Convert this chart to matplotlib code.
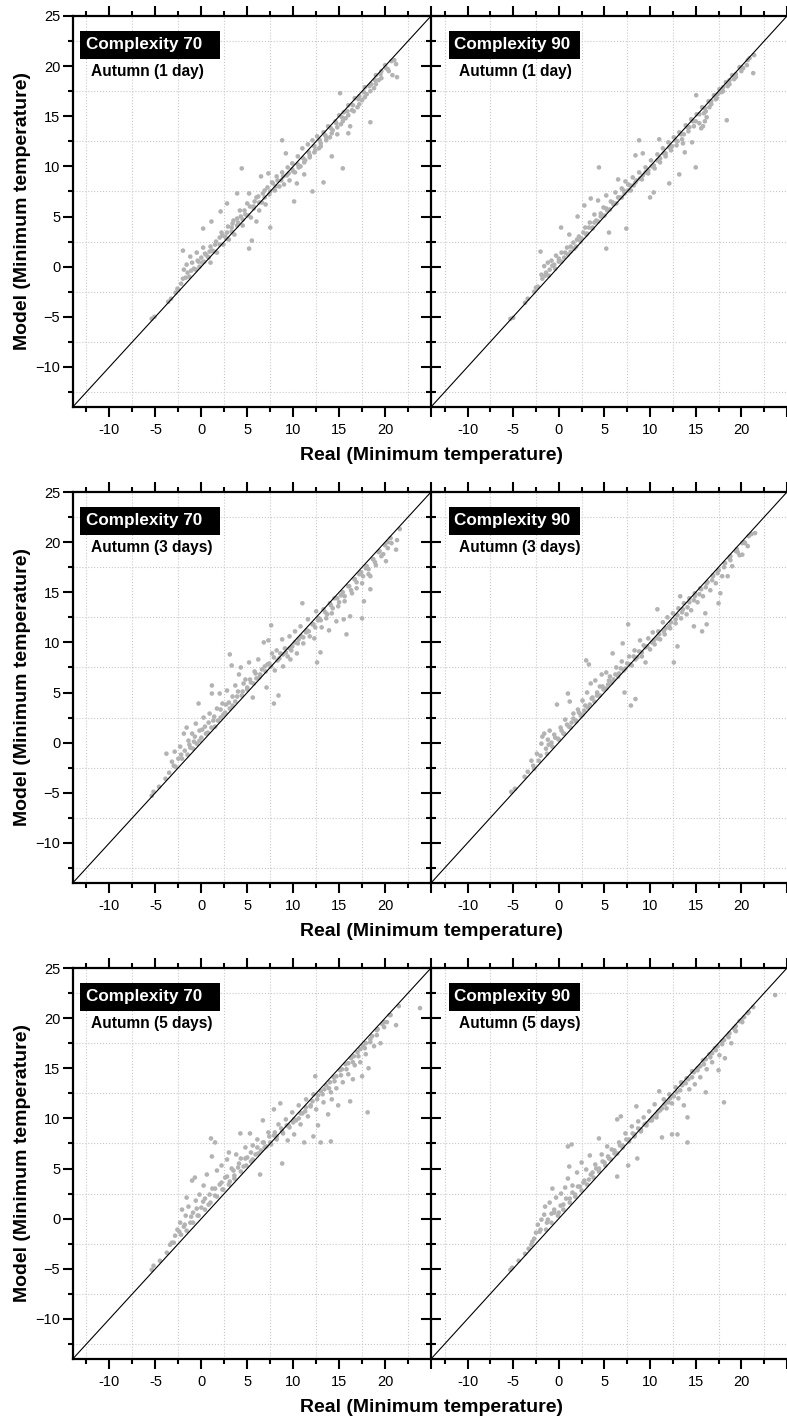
import matplotlib
matplotlib.use("Agg")
import matplotlib.pyplot as plt
from matplotlib.patches import Rectangle
import numpy as np

plt.rcParams['font.family'] = ['Liberation Sans', 'DejaVu Sans']

# (real, model) pairs, one list per panel
pts_c70_1d = [
    (-5.4, -5.2), (-5.1, -5.0), (-3.6, -3.5), (-3.3, -3.2), (-2.8, -2.6), (-2.5, -2.3), (-2.2, -1.7),
    (-2.0, -1.2), (-1.9, -0.3), (-2.0, 1.6), (-1.6, 0.2), (-1.5, -0.6), (-1.2, 1.0), (-1.0, 0.4),
    (-0.8, -0.2), (-0.5, 1.4), (-0.4, 0.6), (-0.2, 0.0), (0.0, 0.9), (0.2, 1.9), (0.3, 0.5), (0.5, 1.2),
    (0.8, 0.9), (1.0, 2.0), (1.0, 0.4), (1.2, 1.6), (0.2, 3.8), (1.1, 4.5), (1.5, 2.2), (1.7, 1.4),
    (2.0, 2.9), (2.1, 5.5), (2.2, 3.4), (2.4, 2.2), (2.6, 3.0), (2.8, 6.3), (2.9, 4.0), (3.0, 2.7),
    (3.3, 3.9), (3.5, 4.6), (3.6, 3.2), (3.9, 7.3), (4.0, 4.4), (4.2, 5.6), (4.4, 9.8), (4.5, 4.1),
    (4.8, 5.2), (5.0, 6.3), (5.2, 7.3), (5.2, 1.8), (5.4, 4.9), (5.5, 2.6), (5.7, 6.0), (6.0, 4.5),
    (6.0, 6.9), (6.3, 5.6), (6.5, 9.0), (6.6, 6.4), (6.9, 7.6), (7.0, 6.2), (7.3, 9.3), (7.4, 7.2),
    (7.5, 3.9), (7.7, 8.4), (8.0, 7.6), (8.2, 9.0), (8.5, 8.0), (8.8, 12.6), (8.8, 9.4), (9.0, 8.2),
    (9.2, 11.3), (9.4, 9.9), (9.6, 8.6), (9.9, 10.3), (10.1, 6.5), (10.2, 9.4), (10.4, 8.3), (10.5, 11.0),
    (10.8, 10.0), (11.0, 11.8), (11.2, 9.2), (11.3, 10.6), (11.6, 12.2), (11.8, 10.9), (12.1, 7.5),
    (12.1, 12.6), (12.3, 11.4), (12.6, 13.0), (12.8, 11.8), (13.0, 12.3), (13.3, 8.4), (13.3, 13.4),
    (13.6, 12.6), (13.8, 14.0), (14.0, 12.9), (14.2, 11.0), (14.3, 13.6), (14.6, 14.5), (14.8, 13.2),
    (15.0, 15.1), (15.1, 17.3), (15.2, 14.2), (15.4, 9.8), (15.5, 15.4), (15.7, 14.8), (16.0, 13.3),
    (16.0, 16.1), (16.2, 14.0), (16.4, 15.6), (16.7, 16.8), (17.0, 15.9), (17.2, 17.0), (17.5, 16.6),
    (17.8, 17.9), (18.0, 17.2), (18.4, 14.4), (18.5, 18.2), (18.8, 17.8), (19.0, 19.1), (19.3, 18.6),
    (19.6, 19.5), (20.0, 20.1), (20.3, 19.7), (20.8, 19.1), (21.0, 20.6), (21.2, 20.2), (21.3, 18.9),
    (-1.3, -1.0), (-0.6, -0.3), (0.1, 0.4), (0.7, 1.0), (1.4, 1.5), (2.0, 2.2), (2.7, 2.8), (3.3, 3.5),
    (3.9, 4.1), (4.5, 4.7), (5.1, 5.1), (5.7, 5.8), (6.3, 6.4), (6.9, 6.9), (7.5, 7.5), (8.1, 8.0),
    (8.7, 8.6), (9.3, 9.1), (9.9, 9.7), (10.5, 10.2), (11.1, 10.8), (11.7, 11.4), (12.3, 12.0),
    (12.9, 12.6), (13.5, 13.1), (14.1, 13.8), (14.7, 14.3), (15.3, 14.9), (15.9, 15.5), (16.5, 16.1),
    (17.1, 16.7), (17.7, 17.4), (18.3, 18.0), (18.9, 18.6), (19.5, 19.2), (20.1, 19.8), (20.7, 20.5),
    (-2.6, -2.2), (-1.7, -1.1), (-1.1, -0.4), (-0.3, 0.5), (0.4, 1.3), (0.9, 1.5), (1.6, 2.5), (2.3, 3.1),
    (2.8, 3.4), (3.4, 4.3), (3.9, 4.8), (4.3, 5.0), (4.7, 5.6), (5.3, 6.0), (5.8, 6.5), (6.2, 7.0),
    (6.7, 7.3), (7.2, 7.9), (7.8, 8.3), (8.3, 8.6), (8.9, 9.0), (9.5, 9.3), (10.0, 9.5), (10.6, 9.9),
    (11.2, 10.4), (11.8, 11.1), (12.4, 11.6), (13.0, 12.0), (13.6, 12.9), (14.2, 13.3), (14.8, 13.9),
    (15.4, 14.5), (16.0, 15.1), (16.6, 15.5), (17.2, 16.2), (17.8, 16.9), (18.4, 17.5), (19.0, 18.2),
    (19.6, 18.8), (20.4, 19.5),
]

pts_c90_1d = [
    (-5.3, -5.2), (-5.0, -5.1), (-3.7, -3.6), (-3.4, -3.2), (-2.7, -2.5), (-2.3, -2.0), (-2.0, 1.5),
    (-1.9, -0.8), (-1.8, -1.2), (-1.6, 0.05), (-1.4, -0.6), (-1.2, 0.4), (-1.0, -0.3), (-0.8, 0.6),
    (-0.5, 0.2), (-0.3, 1.1), (0.0, 0.5), (0.25, 3.9), (0.3, 1.4), (0.6, 0.9), (0.9, 1.9), (1.15, 3.2),
    (1.3, 1.5), (1.6, 2.4), (1.9, 2.0), (2.06, 5.0), (2.2, 3.0), (2.5, 2.8), (2.8, 6.1), (2.9, 3.9),
    (3.1, 3.3), (3.4, 4.4), (3.5, 6.8), (3.7, 3.9), (3.9, 5.2), (4.1, 4.6), (4.3, 6.6), (4.4, 9.9),
    (4.6, 5.0), (4.9, 5.9), (5.2, 7.1), (5.2, 1.8), (5.3, 5.6), (5.5, 3.4), (5.7, 6.5), (6.0, 6.2),
    (6.2, 7.4), (6.5, 8.7), (6.6, 6.9), (6.9, 7.8), (7.2, 7.3), (7.3, 8.5), (7.4, 3.8), (7.6, 8.2),
    (7.9, 7.6), (8.1, 8.9), (8.4, 11.1), (8.4, 8.4), (8.8, 12.6), (8.8, 9.4), (9.1, 8.7), (9.2, 11.3),
    (9.5, 9.9), (9.8, 9.3), (10.0, 6.9), (10.1, 10.6), (10.4, 7.4), (10.5, 9.8), (10.8, 11.2),
    (11.0, 12.7), (11.1, 10.4), (11.4, 11.8), (11.7, 11.0), (12.0, 12.4), (12.1, 8.3), (12.3, 11.6),
    (12.6, 12.9), (12.9, 12.1), (13.2, 9.2), (13.2, 13.4), (13.5, 12.7), (13.6, 12.3), (13.8, 11.4),
    (13.9, 14.1), (14.2, 13.5), (14.5, 14.7), (14.6, 12.4), (14.8, 14.0), (15.0, 9.9), (15.05, 17.1),
    (15.1, 15.2), (15.4, 14.3), (15.6, 13.8), (15.8, 14.0), (16.0, 14.5), (16.2, 14.9), (16.1, 15.5),
    (15.7, 15.9), (16.4, 16.5), (16.7, 16.2), (17.0, 17.1), (17.3, 16.8), (17.6, 17.7), (18.0, 17.5),
    (18.3, 18.4), (18.4, 14.6), (18.7, 18.2), (19.0, 19.1), (19.4, 18.9), (19.8, 19.9), (20.2, 19.8),
    (20.6, 20.1), (20.9, 20.8), (21.3, 19.3), (21.4, 21.1),
    (-1.1, -0.9), (-0.4, -0.2), (0.3, 0.5), (1.0, 1.2), (1.7, 1.8), (2.4, 2.5), (3.0, 3.2), (3.7, 3.8),
    (4.3, 4.5), (5.0, 5.1), (5.6, 5.7), (6.3, 6.3), (6.9, 6.9), (7.6, 7.6), (8.2, 8.1), (8.9, 8.8),
    (9.5, 9.4), (10.2, 10.0), (10.8, 10.6), (11.5, 11.3), (12.1, 11.9), (12.8, 12.6), (13.4, 13.2),
    (14.1, 13.9), (14.7, 14.5), (15.4, 15.2), (16.0, 15.8), (16.7, 16.5), (17.4, 17.2), (18.0, 17.9),
    (18.7, 18.6), (19.4, 19.2), (20.0, 19.9), (20.7, 20.6),
    (-2.5, -2.1), (-1.5, -0.9), (-0.7, 0.1), (0.0, 0.8), (0.7, 1.4), (1.3, 2.0), (2.0, 2.7), (2.7, 3.4),
    (3.3, 3.9), (3.9, 4.4), (4.6, 5.3), (5.2, 5.8), (5.9, 6.4), (6.5, 6.9), (7.1, 7.6), (7.8, 8.1),
    (8.5, 8.6), (9.2, 9.1), (9.8, 9.6), (10.4, 10.1), (11.1, 10.8), (11.7, 11.3), (12.4, 12.0),
    (13.0, 12.5), (13.7, 13.2), (14.3, 13.9), (15.0, 14.5), (15.9, 15.3), (16.5, 15.9), (17.2, 16.7),
    (17.8, 17.4), (18.5, 18.0), (19.2, 18.7), (20.0, 19.5),
]

pts_c70_3d = [
    (-5.4, -5.3), (-5.2, -4.9), (-4.6, -4.4), (-3.9, -3.6), (-3.8, -1.1), (-3.5, -3.0), (-3.2, -1.9),
    (-2.9, -0.9), (-2.8, -2.4), (-2.5, -1.6), (-2.3, -0.4), (-2.1, -1.6), (-1.9, 0.9), (-1.8, -0.8),
    (-1.6, 1.5), (-1.4, 0.2), (-1.2, -0.5), (-1.0, 0.9), (-0.8, 0.1), (-0.6, 1.9), (-0.5, -0.1),
    (-0.3, 3.9), (-0.2, 1.2), (0.0, 0.5), (0.25, 2.5), (0.4, 1.6), (0.7, 1.0), (0.9, 2.9), (1.15, 5.7),
    (1.15, 4.9), (1.3, 2.2), (1.5, 1.6), (1.7, 3.4), (2.0, 4.9), (2.1, 2.5), (2.3, 3.9), (2.6, 3.0),
    (2.8, 5.2), (3.0, 4.0), (3.1, 8.8), (3.3, 7.7), (3.4, 3.7), (3.7, 5.7), (3.9, 4.6), (4.1, 6.8),
    (4.3, 7.5), (4.5, 5.1), (4.8, 6.3), (5.0, 5.5), (5.2, 8.0), (5.4, 6.0), (5.6, 4.5), (5.8, 7.1),
    (6.0, 6.4), (6.2, 8.3), (6.4, 6.8), (6.8, 10.0), (6.9, 7.6), (7.1, 5.5), (7.3, 10.2), (7.4, 7.9),
    (7.6, 11.7), (7.7, 8.9), (7.9, 3.9), (8.0, 7.2), (8.2, 9.2), (8.4, 4.7), (8.5, 8.4), (8.8, 10.3),
    (8.9, 7.6), (9.1, 9.4), (9.4, 8.6), (9.6, 10.6), (9.7, 8.3), (9.9, 9.6), (10.2, 11.1), (10.4, 8.9),
    (10.6, 10.3), (10.8, 11.6), (11.0, 13.9), (11.1, 9.9), (11.4, 11.0), (11.6, 12.3), (11.8, 10.6),
    (12.1, 11.8), (12.3, 10.4), (12.5, 13.1), (12.6, 8.0), (12.7, 12.2), (12.97, 9.0), (13.1, 11.5),
    (13.3, 13.3), (13.6, 12.4), (13.9, 11.2), (14.0, 13.9), (14.2, 12.9), (14.5, 14.4), (14.7, 12.1),
    (14.9, 13.6), (15.2, 14.7), (15.5, 12.3), (15.6, 14.1), (15.8, 10.8), (16.0, 15.6), (16.2, 12.6),
    (16.4, 14.9), (16.7, 16.3), (16.9, 15.4), (17.2, 16.8), (17.5, 12.4), (17.5, 15.9), (17.7, 14.1),
    (17.9, 17.4), (18.2, 16.8), (18.4, 15.3), (18.4, 16.6), (18.7, 18.3), (19.0, 17.7), (19.4, 19.1),
    (19.8, 18.8), (20.1, 18.1), (20.3, 20.0), (20.7, 19.9), (21.2, 19.25), (21.3, 20.2), (21.6, 21.3),
    (-1.5, -1.2), (-0.9, -0.6), (-0.2, 0.2), (0.5, 0.9), (1.1, 1.5), (1.8, 2.2), (2.4, 2.8), (3.1, 3.4),
    (3.7, 4.1), (4.4, 4.7), (5.0, 5.3), (5.7, 5.9), (6.3, 6.5), (7.0, 7.1), (7.6, 7.6), (8.3, 8.2),
    (8.9, 8.8), (9.6, 9.4), (10.2, 10.0), (10.9, 10.6), (11.5, 11.2), (12.2, 11.8), (12.8, 12.4),
    (13.5, 13.0), (14.1, 13.7), (14.8, 14.4), (15.4, 15.0), (16.1, 15.6), (16.7, 16.3), (17.4, 17.0),
    (18.0, 17.6), (18.7, 18.3), (19.3, 19.0), (20.0, 19.7), (20.6, 20.4),
    (-3.0, -2.3), (-2.2, -1.2), (-1.3, -0.2), (-0.7, 0.6), (0.1, 1.3), (0.8, 2.0), (1.4, 2.6), (2.1, 3.3),
    (2.7, 3.8), (3.4, 4.6), (4.0, 5.1), (4.6, 5.9), (5.3, 6.3), (5.9, 6.9), (6.6, 7.3), (7.2, 7.8),
    (7.9, 8.5), (8.6, 8.9), (9.2, 9.0), (9.8, 9.2), (10.5, 9.9), (11.1, 10.5), (11.7, 11.1), (12.4, 11.5),
    (13.0, 12.2), (13.7, 12.8), (14.3, 13.4), (15.0, 14.0), (15.6, 14.6), (16.3, 15.2), (16.9, 16.0),
    (17.6, 16.6), (18.2, 17.3), (18.9, 18.0), (19.6, 18.6), (20.3, 19.4),
]

pts_c90_3d = [
    (-5.2, -4.9), (-4.8, -4.6), (-3.75, -3.4), (-3.4, -2.9), (-3.0, -1.8), (-2.7, -2.6), (-2.4, -1.1),
    (-2.2, -1.8), (-1.9, -0.1), (-1.8, 0.6), (-1.6, 0.9), (-1.4, -0.6), (-1.2, 0.3), (-1.0, 1.2),
    (-0.8, 0.0), (-0.5, 0.8), (-0.2, 3.8), (-0.1, 0.4), (0.2, 1.5), (0.5, 0.9), (0.7, 2.3), (1.0, 4.9),
    (1.1, 1.6), (1.2, 4.1), (1.4, 2.0), (1.6, 2.9), (1.9, 2.1), (2.1, 3.3), (2.4, 2.7), (2.6, 4.2),
    (2.8, 3.2), (3.0, 8.2), (3.1, 5.0), (3.3, 7.8), (3.4, 3.8), (3.5, 5.9), (3.7, 4.5), (4.0, 6.2),
    (4.2, 4.7), (4.5, 5.6), (4.7, 6.8), (4.9, 5.3), (5.2, 7.0), (5.4, 5.8), (5.6, 6.6), (5.9, 8.9),
    (6.0, 6.3), (6.3, 7.5), (6.6, 6.9), (6.9, 8.1), (7.0, 9.9), (7.2, 5.0), (7.3, 7.4), (7.6, 11.8),
    (7.7, 8.6), (7.9, 3.7), (8.0, 7.7), (8.3, 9.2), (8.4, 4.35), (8.6, 8.5), (8.9, 10.2), (9.1, 8.6),
    (9.3, 9.7), (9.5, 8.0), (9.8, 10.4), (10.0, 9.3), (10.3, 11.0), (10.5, 9.8), (10.8, 13.3),
    (10.9, 11.1), (11.1, 10.3), (11.4, 12.0), (11.6, 10.8), (11.9, 12.5), (12.2, 11.4), (12.5, 12.9),
    (12.6, 8.0), (12.8, 11.9), (13.0, 9.6), (13.1, 13.4), (13.3, 14.6), (13.4, 12.4), (13.7, 13.9),
    (14.0, 12.8), (14.3, 14.4), (14.5, 13.2), (14.8, 11.6), (14.9, 14.9), (15.2, 14.0), (15.5, 15.4),
    (15.7, 11.1), (15.8, 14.6), (16.05, 12.9), (16.2, 11.8), (16.3, 16.0), (16.6, 15.2), (16.9, 16.7),
    (17.2, 15.9), (17.5, 13.9), (17.5, 17.2), (17.7, 14.9), (17.9, 16.6), (18.2, 17.9), (18.5, 16.6),
    (18.7, 18.4), (19.0, 17.6), (19.4, 19.1), (19.8, 18.7), (20.1, 18.75), (20.3, 20.0), (20.7, 19.6),
    (21.1, 20.8), (21.5, 20.9),
    (-1.3, -1.1), (-0.7, -0.4), (0.0, 0.3), (0.6, 0.9), (1.3, 1.5), (1.9, 2.2), (2.6, 2.8), (3.2, 3.5),
    (3.9, 4.1), (4.5, 4.7), (5.2, 5.4), (5.8, 6.0), (6.5, 6.6), (7.1, 7.2), (7.8, 7.8), (8.4, 8.3),
    (9.1, 9.0), (9.7, 9.6), (10.4, 10.2), (11.0, 10.8), (11.7, 11.4), (12.3, 12.0), (13.0, 12.7),
    (13.6, 13.3), (14.3, 14.0), (14.9, 14.6), (15.6, 15.3), (16.2, 15.9), (16.9, 16.6), (17.5, 17.2),
    (18.2, 17.9), (18.8, 18.6), (19.5, 19.3), (20.1, 19.9), (20.8, 20.6),
    (-2.8, -2.3), (-2.0, -1.3), (-1.1, -0.2), (-0.4, 0.5), (0.3, 1.2), (0.9, 1.8), (1.6, 2.4), (2.2, 3.0),
    (2.9, 3.7), (3.6, 4.4), (4.2, 5.0), (4.8, 5.6), (5.5, 6.2), (6.2, 6.8), (6.8, 7.4), (7.5, 7.9),
    (8.2, 8.6), (8.8, 9.1), (9.5, 9.5), (10.2, 10.0), (10.8, 10.4), (11.5, 11.1), (12.1, 11.6),
    (12.8, 12.3), (13.5, 13.0), (14.1, 13.5), (14.8, 14.2), (15.4, 14.8), (16.1, 15.5), (16.8, 16.2),
    (17.4, 16.9), (18.1, 17.5), (18.8, 18.2), (19.6, 19.0), (20.4, 19.9),
]

pts_c70_5d = [
    (-5.4, -5.1), (-5.2, -4.7), (-4.5, -4.2), (-3.75, -3.4), (-3.4, -2.6), (-3.0, -2.4), (-2.85, -1.7),
    (-2.6, -1.1), (-2.3, -0.4), (-2.2, -1.6), (-2.1, 0.9), (-1.9, -0.8), (-1.7, 0.3), (-1.6, 2.1),
    (-1.4, 1.2), (-1.2, -0.4), (-1.0, 3.8), (-0.9, 0.6), (-0.7, 4.1), (-0.6, 1.8), (-0.4, 0.3),
    (-0.2, 2.4), (0.0, 1.1), (0.25, 3.3), (0.4, 2.0), (0.6, 4.4), (0.8, 1.4), (1.05, 8.0), (1.15, 6.2),
    (1.2, 3.0), (1.5, 7.6), (1.5, 2.3), (1.7, 4.8), (2.0, 3.4), (2.2, 5.3), (2.4, 2.9), (2.6, 4.1),
    (2.8, 5.9), (3.0, 6.6), (3.1, 3.7), (3.3, 5.0), (3.6, 4.3), (3.8, 6.4), (4.0, 5.1), (4.25, 8.5),
    (4.3, 6.0), (4.6, 5.2), (4.8, 7.1), (5.0, 6.1), (5.3, 8.5), (5.4, 5.7), (5.6, 7.3), (5.9, 6.4),
    (6.1, 7.9), (6.4, 4.4), (6.5, 6.8), (6.7, 9.8), (6.8, 7.6), (7.1, 7.2), (7.3, 8.6), (7.6, 7.4),
    (7.9, 10.9), (7.9, 8.3), (8.2, 7.9), (8.4, 9.4), (8.6, 11.5), (8.8, 5.5), (8.9, 8.5), (9.2, 9.9),
    (9.4, 7.8), (9.6, 9.1), (9.9, 10.6), (10.1, 8.4), (10.3, 9.8), (10.6, 11.3), (10.8, 9.4),
    (11.0, 10.5), (11.2, 7.6), (11.4, 11.9), (11.6, 10.2), (11.9, 11.2), (12.2, 8.2), (12.2, 12.4),
    (12.4, 14.2), (12.5, 10.9), (12.7, 9.3), (13.0, 7.6), (13.0, 12.7), (13.3, 11.6), (13.6, 13.3),
    (13.8, 10.4), (14.1, 7.7), (14.1, 12.6), (14.2, 11.9), (14.4, 14.1), (14.7, 13.0), (14.9, 11.3),
    (15.1, 14.8), (15.4, 13.6), (15.7, 15.4), (16.0, 14.4), (16.2, 11.7), (16.3, 16.0), (16.5, 13.9),
    (16.7, 15.3), (17.0, 16.6), (17.3, 15.6), (17.5, 14.2), (17.6, 17.2), (17.9, 16.4), (18.1, 10.6),
    (18.2, 15.0), (18.4, 17.9), (18.8, 17.2), (19.1, 18.8), (19.5, 17.5), (19.7, 19.4), (20.2, 19.6),
    (20.6, 20.3), (21.2, 19.3), (21.5, 21.2), (23.8, 21.0),
    (-1.6, -1.2), (-0.9, -0.4), (-0.3, 0.3), (0.4, 0.9), (1.0, 1.6), (1.7, 2.2), (2.3, 2.9), (3.0, 3.4),
    (3.6, 4.0), (4.3, 4.7), (4.9, 5.3), (5.6, 5.9), (6.2, 6.5), (6.9, 7.1), (7.5, 7.6), (8.2, 8.2),
    (8.8, 8.7), (9.5, 9.3), (10.1, 9.9), (10.8, 10.5), (11.4, 11.1), (12.1, 11.7), (12.7, 12.3),
    (13.4, 12.9), (14.0, 13.6), (14.7, 14.2), (15.3, 14.9), (16.0, 15.5), (16.6, 16.2), (17.3, 16.9),
    (17.9, 17.5), (18.6, 18.2), (19.2, 18.9), (19.9, 19.6), (20.5, 20.3),
    (-3.2, -2.4), (-2.4, -1.3), (-1.8, -0.6), (-1.1, 0.2), (-0.5, 1.0), (0.2, 1.7), (0.9, 2.4), (1.5, 3.0),
    (2.2, 3.6), (2.8, 4.2), (3.5, 4.8), (4.1, 5.5), (4.8, 6.0), (5.4, 6.6), (6.1, 7.1), (6.7, 7.6),
    (7.4, 8.2), (8.0, 8.6), (8.7, 9.0), (9.3, 9.3), (10.0, 9.6), (10.6, 10.0), (11.3, 10.7), (11.9, 11.3),
    (12.6, 11.9), (13.2, 12.4), (13.9, 13.0), (14.5, 13.7), (15.2, 14.3), (15.8, 14.9), (16.5, 15.6),
    (17.1, 16.2), (17.8, 17.0), (18.4, 17.6), (19.1, 18.3), (19.9, 19.1),
]

pts_c90_5d = [
    (-5.3, -5.1), (-5.1, -4.9), (-4.4, -4.2), (-3.7, -3.5), (-3.3, -3.0), (-3.0, -2.6), (-2.7, -2.0),
    (-2.5, -1.4), (-2.3, -0.6), (-2.1, -1.3), (-1.9, -0.1), (-1.6, 0.4), (-1.5, 1.2), (-1.3, -0.4),
    (-1.0, 1.6), (-0.8, 0.5), (-0.7, 3.0), (-0.5, 0.9), (-0.3, 2.1), (0.0, 0.6), (0.25, 2.5), (0.5, 1.4),
    (0.7, 3.1), (1.0, 4.0), (1.0, 7.2), (1.15, 5.2), (1.2, 2.0), (1.4, 7.4), (1.5, 3.3), (1.8, 2.4),
    (2.0, 4.6), (2.3, 3.2), (2.5, 5.6), (2.7, 3.6), (3.0, 4.9), (3.3, 3.9), (3.4, 6.3), (3.7, 4.6),
    (4.0, 5.4), (4.4, 8.0), (4.4, 5.0), (4.7, 6.4), (5.0, 5.6), (5.3, 7.2), (5.5, 6.0), (5.8, 6.9),
    (6.1, 6.5), (6.4, 4.2), (6.4, 9.9), (6.6, 7.6), (6.8, 10.2), (7.0, 7.3), (7.3, 8.5), (7.6, 5.3),
    (7.7, 7.9), (8.0, 9.2), (8.3, 8.4), (8.5, 11.2), (8.6, 6.0), (8.7, 9.7), (9.0, 8.7), (9.3, 10.1),
    (9.6, 9.3), (9.9, 10.7), (10.2, 9.8), (10.5, 11.4), (10.7, 10.1), (11.0, 12.7), (11.1, 10.8),
    (11.3, 8.1), (11.5, 11.9), (11.8, 11.0), (12.1, 12.4), (12.4, 8.4), (12.4, 11.5), (12.8, 13.1),
    (13.0, 8.4), (13.1, 12.0), (13.4, 13.6), (13.7, 11.3), (14.0, 14.0), (14.1, 7.6), (14.1, 10.1),
    (14.3, 12.9), (14.6, 14.7), (14.9, 13.4), (15.2, 15.0), (15.5, 14.1), (15.8, 15.8), (16.1, 12.6),
    (16.2, 14.9), (16.5, 16.4), (16.8, 15.6), (17.1, 17.0), (17.5, 14.8), (17.6, 16.3), (17.9, 17.7),
    (18.1, 11.6), (18.2, 16.0), (18.5, 18.2), (18.9, 17.5), (19.2, 19.0), (19.4, 18.7), (19.8, 19.7),
    (20.3, 20.1), (20.8, 20.6), (21.3, 21.1), (23.7, 22.3),
    (-1.4, -1.1), (-0.8, -0.4), (-0.1, 0.3), (0.5, 0.9), (1.2, 1.6), (1.8, 2.2), (2.5, 2.8), (3.1, 3.4),
    (3.8, 4.1), (4.4, 4.7), (5.1, 5.3), (5.7, 5.9), (6.4, 6.5), (7.0, 7.1), (7.7, 7.7), (8.3, 8.2),
    (9.0, 8.9), (9.6, 9.5), (10.3, 10.1), (10.9, 10.7), (11.6, 11.4), (12.2, 12.0), (12.9, 12.6),
    (13.5, 13.3), (14.2, 13.9), (14.8, 14.6), (15.5, 15.2), (16.1, 15.9), (16.8, 16.5), (17.4, 17.2),
    (18.1, 17.8), (18.7, 18.5), (19.4, 19.2), (20.0, 19.8), (20.7, 20.5),
    (-2.9, -2.3), (-2.0, -1.1), (-1.2, -0.1), (-0.5, 0.6), (0.2, 1.3), (0.8, 2.0), (1.5, 2.6), (2.1, 3.2),
    (2.8, 3.8), (3.5, 4.4), (4.1, 5.0), (4.8, 5.7), (5.4, 6.2), (6.1, 6.8), (6.7, 7.3), (7.4, 7.9),
    (8.1, 8.5), (8.7, 9.0), (9.4, 9.4), (10.0, 9.8), (10.7, 10.4), (11.3, 11.0), (12.0, 11.6),
    (12.6, 12.2), (13.3, 12.8), (13.9, 13.5), (14.6, 14.1), (15.2, 14.8), (15.9, 15.4), (16.6, 16.1),
    (17.2, 16.8), (17.9, 17.4), (18.6, 18.1), (19.3, 18.8), (20.1, 19.6),
]

complexities = ['Complexity 70', 'Complexity 90']
seasons = ['Autumn (1 day)', 'Autumn (3 days)', 'Autumn (5 days)']
panels = [[pts_c70_1d, pts_c90_1d], [pts_c70_3d, pts_c90_3d], [pts_c70_5d, pts_c90_5d]]

lim = (-14, 25)
major = [-10, -5, 0, 5, 10, 15, 20, 25]
minor = [-12.5, -7.5, -2.5, 2.5, 7.5, 12.5, 17.5, 22.5]
xlabels = ['-10', '-5', '0', '5', '10', '15', '20', '']

W, H = 787, 1423
fig = plt.figure(figsize=(W / 100, H / 100), dpi=100)

left0 = 72.7 / W
pw = 358.3 / W
ph = 391 / H
row_tops = [16, 492, 968]

# label box positions in axes fraction: (box left, box right, text left, subtitle left)
boxes = [(0.0204, 0.411, 0.037, 0.05), (0.0502, 0.4186, 0.064, 0.078)]

for r in range(3):
    bottom = 1 - (row_tops[r] + 391) / H
    for c in range(2):
        ax = fig.add_axes([left0 + c * pw, bottom, pw if c == 0 else 1 - (left0 + pw), ph])
        pts = np.array(panels[r][c])
        ax.set_xlim(lim)
        ax.set_ylim(lim)
        ax.set_xticks(major)
        ax.set_xticks(minor, minor=True)
        ax.set_yticks(major)
        ax.set_yticks(minor, minor=True)
        ax.set_xticklabels(xlabels, fontsize=10.5)
        ax.grid(which='minor', color='#c8c8c8', linestyle=':', linewidth=0.8)
        ax.grid(which='major', visible=False)
        ax.set_axisbelow(True)

        ax.scatter(pts[:, 0], pts[:, 1], s=11, color='#b3b3b3', edgecolors='none', zorder=2)
        ax.plot(lim, lim, color='black', linewidth=0.8, zorder=3)

        for sp in ax.spines.values():
            sp.set_linewidth(1.6)
        ax.spines['right'].set_visible(False)
        ax.tick_params(axis='x', which='both', top=True, bottom=True, direction='out', width=1.5)
        ax.tick_params(axis='x', which='major', length=7.5, pad=4)
        ax.tick_params(axis='x', which='minor', length=3.5)
        if c == 0:
            ax.tick_params(axis='y', which='both', left=True, right=False, direction='out', width=1.5, pad=2)
            ax.tick_params(axis='y', which='major', length=7, labelsize=10.5)
            ax.tick_params(axis='y', which='minor', length=3.5)
            ax.set_ylabel('Model (Minimum temperature)', fontsize=14, fontweight='bold', labelpad=3)
        else:
            ax.tick_params(axis='y', which='both', left=True, right=False, labelleft=False,
                           direction='inout', width=1.5)
            ax.tick_params(axis='y', which='major', length=14)
            ax.tick_params(axis='y', which='minor', length=7)

        b0, b1, tx, sx = boxes[c]
        ax.add_patch(Rectangle((b0, 0.8893), b1 - b0, 0.0731, transform=ax.transAxes,
                               facecolor='black', edgecolor='none', zorder=4))
        ax.text(tx, 0.926, complexities[c], transform=ax.transAxes, fontsize=12.3,
                fontweight='bold', color='white', va='center', ha='left', zorder=5)
        ax.text(sx, 0.857, seasons[r], transform=ax.transAxes, fontsize=11.2,
                fontweight='bold', color='black', va='center', ha='left', zorder=5)

    fig.text(431 / W, 1 - (row_tops[r] + 440) / H, 'Real (Minimum temperature)',
             fontsize=14, fontweight='bold', ha='center', va='center')

fig.savefig('out.png', dpi=100)
